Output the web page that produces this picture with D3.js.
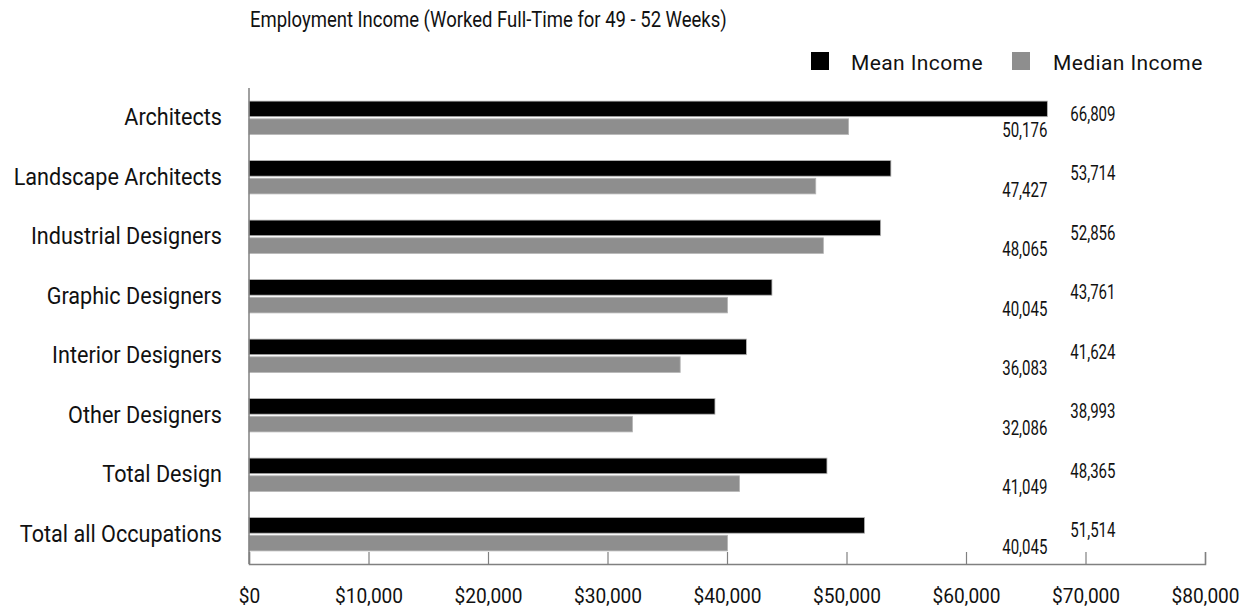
<!DOCTYPE html>
<html>
<head>
<meta charset="utf-8">
<script src="https://cdn.jsdelivr.net/npm/d3@7"></script>
<style>
  html, body { margin: 0; padding: 0; background: #fff; }
  svg text { font-family: Roboto, "Liberation Sans", Arial, sans-serif; fill: #111; }
</style>
</head>
<body>
<svg id="chart" width="1254" height="611"></svg>
<script>
// Employment income by occupation, full-year full-time workers
const categories = [
  "Architects",
  "Landscape Architects",
  "Industrial Designers",
  "Graphic Designers",
  "Interior Designers",
  "Other Designers",
  "Total Design",
  "Total all Occupations"
];
const meanIncome   = [66809, 53714, 52856, 43761, 41624, 38993, 48365, 51514];
const medianIncome = [50176, 47427, 48065, 40045, 36083, 32086, 41049, 40045];
const seriesNames  = ["Mean Income", "Median Income"];
const xTicks       = [0, 10000, 20000, 30000, 40000, 50000, 60000, 70000, 80000];

const colors = { "Mean Income": "#000000", "Median Income": "#8e8e8e" };
const rows = categories.map((c, i) => ({ category: c, "Mean Income": meanIncome[i], "Median Income": medianIncome[i] }));

const svg = d3.select("#chart");
const plot = { left: 249, right: 1205, top: 88, bottom: 564 };

const x = d3.scaleLinear().domain([0, 80000]).range([plot.left, plot.right]);
const y = d3.scaleBand().domain(categories).range([plot.top, plot.bottom]).paddingInner(0.44).paddingOuter(0.22);
const ySub = d3.scaleBand().domain(seriesNames).range([0, y.bandwidth()]).paddingInner(0.12);

// Condensed look: draw text narrowed horizontally about its anchor point
function condensed(sel, px, py, sx) {
  return sel.attr("transform", `translate(${px},${py}) scale(${sx},1)`);
}

// Title
condensed(svg.append("text"), 250, 27, 0.822)
  .style("font-size", "22.5px")
  .text("Employment Income (Worked Full-Time for 49 - 52 Weeks)");

// Legend
const legend = svg.append("g");
const legendItems = [
  { name: "Mean Income", sx: 811, tx: 851 },
  { name: "Median Income", sx: 1012, tx: 1053 }
];
legendItems.forEach(d => {
  legend.append("rect").attr("x", d.sx).attr("y", 52).attr("width", 18).attr("height", 18).attr("fill", colors[d.name]);
  legend.append("text").attr("x", d.tx).attr("y", 70)
    .style("font-size", "21px").style("letter-spacing", "0.4px").text(d.name);
});

// Bars
const groups = svg.append("g").selectAll("g").data(rows).join("g")
  .attr("transform", d => `translate(0,${y(d.category)})`);

groups.selectAll("rect").data(d => seriesNames.map(k => ({ key: k, value: d[k] }))).join("rect")
  .attr("x", x(0))
  .attr("y", d => ySub(d.key))
  .attr("width", d => x(d.value) - x(0))
  .attr("height", ySub.bandwidth())
  .attr("fill", d => colors[d.key])
  .attr("stroke", "#b5b5b5")
  .attr("stroke-width", 0.8);

// Value labels: mean to the right of the longest bar, median right-aligned under it
const fmt = d3.format(",");
const labelEdge = x(d3.max(meanIncome));
groups.append("text")
  .each(function() { condensed(d3.select(this), labelEdge + 23, ySub("Mean Income") + 19.6, 0.77); })
  .style("font-size", "19.5px")
  .text(d => fmt(d["Mean Income"]));
groups.append("text")
  .each(function() { condensed(d3.select(this), labelEdge, ySub("Median Income") + 18.2, 0.77); })
  .attr("text-anchor", "end")
  .style("font-size", "19.5px")
  .text(d => fmt(d["Median Income"]));

// Category labels
svg.append("g").selectAll("text").data(categories).join("text")
  .each(function(d) { condensed(d3.select(this), 222, y(d) + y.bandwidth() / 2 + 7.5, 0.9); })
  .attr("text-anchor", "end")
  .style("font-size", "24px")
  .text(d => d);

// Axes
const axisColor = "#808080";
svg.append("line")
  .attr("x1", plot.left).attr("x2", plot.left)
  .attr("y1", plot.top).attr("y2", plot.bottom)
  .attr("stroke", axisColor).attr("stroke-width", 1.5);

const xAxis = svg.append("g")
  .attr("transform", `translate(0,${plot.bottom})`)
  .call(d3.axisBottom(x).tickValues(xTicks).tickSize(-12)
    .tickFormat(d => "$" + fmt(d)));
xAxis.select(".domain").attr("stroke", axisColor).attr("stroke-width", 1.5);
xAxis.selectAll(".tick line").attr("stroke", axisColor).attr("stroke-width", 1.2);
xAxis.selectAll(".tick text")
  .attr("y", null).attr("dy", null)
  .attr("transform", "translate(0,39) scale(0.91,1)")
  .style("font-size", "21px")
  .style("font-family", "Roboto, \"Liberation Sans\", Arial, sans-serif")
  .attr("fill", "#111");
</script>
</body>
</html>
